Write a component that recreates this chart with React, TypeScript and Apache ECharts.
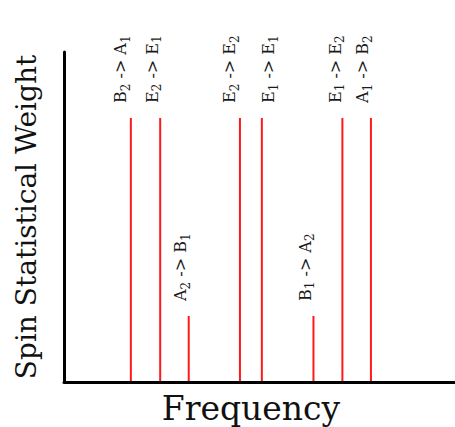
import React, { useEffect, useRef } from "react";
import * as echarts from "echarts";

// Transition data: from-state symbol/subscript -> to-state symbol/subscript
const fromSym = ["B", "E", "A", "E", "E", "B", "E", "A"];
const fromSub = ["2", "2", "2", "2", "1", "1", "1", "1"];
const toSym = ["A", "E", "B", "E", "E", "A", "E", "B"];
const toSub = ["1", "1", "1", "2", "1", "2", "2", "2"];
// Relative frequency positions (arbitrary units) and spin statistical weights
const frequencies = [17.1, 24.6, 31.9, 45.0, 50.6, 63.8, 71.2, 78.5];
const weights = [4, 4, 1, 4, 4, 1, 4, 4];

const titleText = "Fully Allowed Energy Diagram";
const xName = "Frequency";
const yName = "Spin Statistical Weight";

// label horizontal shift relative to its line (layout only)
const labelDx = [-10, -8, -8, -10, 7, -8, -7, -8];

const SERIF = '"DejaVu Serif", serif';

export default function App() {
  const ref = useRef<HTMLDivElement>(null);
  useEffect(() => {
    if (!ref.current) return;
    const chart = echarts.init(ref.current, null, { renderer: "svg" });
    const data = frequencies.map((f, i) => [f, weights[i]]);
    const labelTexts = fromSym.map(
      (s, i) => `{m|${s}}{s|${fromSub[i]}}{m| -> ${toSym[i]}}{s|${toSub[i]}}`
    );
    chart.setOption({
      animation: false,
      grid: {
        left: 64,
        right: 0,
        top: 52,
        bottom: 45,
        containLabel: false,
        outerBoundsMode: "none",
      },
      graphic: [
        {
          type: "text",
          x: -1,
          y: -26,
          style: {
            text: titleText,
            fontFamily: '"Liberation Sans", sans-serif',
            fontSize: 24,
            fontWeight: "bold",
            fontStyle: "italic",
            fill: "#000",
            verticalAlign: "top",
          },
        },
      ],
      xAxis: {
        type: "value",
        min: 0,
        max: 100,
        name: xName,
        nameLocation: "middle",
        nameGap: 10,
        nameTextStyle: {
          fontFamily: SERIF,
          fontSize: 33,
          color: "#111",
          padding: [0, 17, 0, 0],
          verticalAlign: "top",
        },
        axisLine: { show: true, lineStyle: { color: "#000", width: 3 } },
        axisTick: { show: false },
        axisLabel: { show: false },
        splitLine: { show: false },
      },
      yAxis: {
        type: "value",
        min: 0,
        max: 5,
        name: yName,
        nameLocation: "middle",
        nameGap: 24,
        nameTextStyle: { fontFamily: SERIF, fontSize: 28, color: "#111" },
        axisLine: { show: true, lineStyle: { color: "#000", width: 3 } },
        axisTick: { show: false },
        axisLabel: { show: false },
        splitLine: { show: false },
      },
      series: [
        {
          type: "custom",
          data,
          clip: false,
          renderItem: (params: any, api: any) => {
            const x = api.value(0);
            const w = api.value(1);
            const p0 = api.coord([x, 0]);
            const p1 = api.coord([x, w]);
            const i = params.dataIndex;
            return {
              type: "group",
              children: [
                {
                  type: "line",
                  shape: { x1: p0[0], y1: p0[1] - 1, x2: p1[0], y2: p1[1] },
                  style: { stroke: "#ff1a1a", lineWidth: 2 },
                },
                {
                  type: "text",
                  x: p1[0] + labelDx[i],
                  y: p1[1] - 15,
                  rotation: Math.PI / 2,
                  style: {
                    text: labelTexts[i],
                    align: "left",
                    verticalAlign: "middle",
                    fill: "#1a1a1a",
                    rich: {
                      m: { fontFamily: SERIF, fontSize: 16, lineHeight: 22, fill: "#1a1a1a" },
                      s: { fontFamily: SERIF, fontSize: 12, lineHeight: 13, verticalAlign: "bottom", fill: "#1a1a1a" },
                    },
                  },
                },
              ],
            };
          },
        },
      ],
    });
    return () => chart.dispose();
  }, []);
  return (
    <div
      ref={ref}
      style={{ position: "fixed", left: 0, top: 0, width: 455, height: 427, background: "#fff" }}
    />
  );
}
